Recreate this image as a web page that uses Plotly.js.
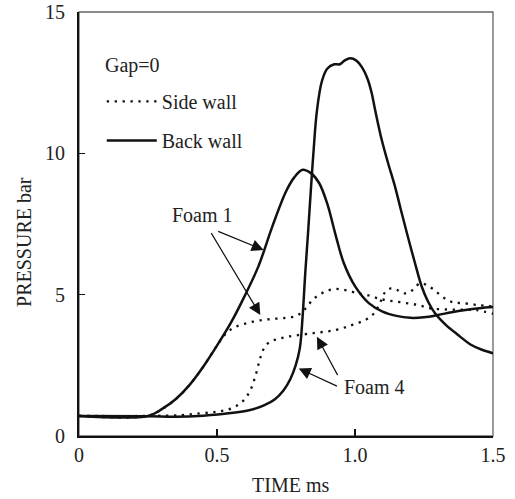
<!DOCTYPE html>
<html>
<head>
<meta charset="utf-8">
<script src="https://cdn.plot.ly/plotly-3.0.1.min.js"></script>
<style>
  html, body { margin: 0; padding: 0; background: #fff; }
  #chart { width: 515px; height: 499px; }
</style>
</head>
<body>
<div id="chart"></div>
<script>
// Foam 1, back wall (solid)
const timeFoam1Back = [0, 0.25, 0.30, 0.35, 0.40, 0.45, 0.50, 0.55, 0.60, 0.65, 0.70, 0.75, 0.78, 0.81, 0.84, 0.87, 0.90, 0.93, 0.96, 1.00, 1.05, 1.10, 1.15, 1.20, 1.25, 1.30, 1.35, 1.40, 1.45, 1.50];
const presFoam1Back = [0.71, 0.71, 0.95, 1.30, 1.80, 2.45, 3.20, 4.00, 4.95, 6.00, 7.40, 8.65, 9.15, 9.42, 9.30, 8.95, 8.20, 7.10, 6.10, 5.30, 4.70, 4.40, 4.25, 4.18, 4.20, 4.28, 4.38, 4.46, 4.52, 4.56];

// Foam 4, back wall (solid)
const timeFoam4Back = [0, 0.25, 0.35, 0.45, 0.55, 0.62, 0.67, 0.71, 0.74, 0.765, 0.785, 0.80, 0.81, 0.82, 0.83, 0.84, 0.85, 0.862, 0.88, 0.90, 0.925, 0.945, 0.962, 0.983, 1.005, 1.025, 1.045, 1.06, 1.073, 1.097, 1.12, 1.145, 1.165, 1.188, 1.215, 1.242, 1.265, 1.29, 1.33, 1.37, 1.42, 1.46, 1.50];
const presFoam4Back = [0.71, 0.70, 0.68, 0.72, 0.81, 0.92, 1.08, 1.30, 1.60, 2.00, 2.50, 3.10, 4.20, 5.80, 7.20, 8.70, 10.10, 11.50, 12.55, 13.00, 13.15, 13.15, 13.28, 13.36, 13.28, 13.05, 12.65, 12.15, 11.53, 10.47, 9.65, 8.82, 8.05, 7.18, 6.20, 5.28, 4.75, 4.34, 3.92, 3.60, 3.23, 3.05, 2.93];

// Foam 1, side wall (dotted)
const timeFoam1Side = [0, 0.25, 0.30, 0.35, 0.40, 0.45, 0.50, 0.53, 0.56, 0.60, 0.65, 0.70, 0.75, 0.79, 0.82, 0.85, 0.89, 0.93, 0.97, 1.01, 1.05, 1.09, 1.13, 1.18, 1.23, 1.27, 1.32, 1.38, 1.44, 1.50];
const presFoam1Side = [0.71, 0.71, 0.95, 1.30, 1.80, 2.45, 3.20, 3.60, 3.83, 3.97, 4.08, 4.14, 4.18, 4.26, 4.50, 4.85, 5.10, 5.20, 5.15, 5.05, 4.97, 4.85, 4.78, 4.71, 4.63, 4.52, 4.48, 4.47, 4.45, 4.33];

// Foam 4, side wall (dotted)
const timeFoam4Side = [0, 0.25, 0.37, 0.44, 0.50, 0.55, 0.59, 0.62, 0.64, 0.655, 0.67, 0.69, 0.72, 0.76, 0.85, 0.93, 0.99, 1.04, 1.07, 1.09, 1.11, 1.13, 1.15, 1.175, 1.195, 1.215, 1.235, 1.26, 1.285, 1.31, 1.335, 1.36, 1.39, 1.44, 1.50];
const presFoam4Side = [0.71, 0.71, 0.74, 0.80, 0.86, 0.97, 1.20, 1.60, 2.15, 2.70, 3.10, 3.32, 3.43, 3.52, 3.64, 3.75, 3.93, 4.12, 4.35, 4.70, 5.10, 5.22, 5.18, 5.05, 5.07, 5.22, 5.40, 5.34, 5.18, 4.98, 4.81, 4.72, 4.70, 4.64, 4.58];

// Axis ticks
const xTicks = [0, 0.5, 1.0, 1.5];
const xTickText = ['0', '0.5', '1.0', '1.5'];
const yTicks = [0, 5, 10, 15];
const yTickText = ['0', '5', '10', '15'];

const FONT = 'Liberation Serif, Times New Roman, serif';
const INK = '#111';
const TEXT = '#222';

const solid = { color: INK, width: 2.5, shape: 'spline', smoothing: 1.0 };
const dotted = { color: INK, width: 2.3, dash: '2.3px,5.6px', shape: 'spline', smoothing: 1.0 };

const traces = [
  { x: timeFoam1Side, y: presFoam1Side, mode: 'lines', line: dotted, name: 'Side wall', legendgroup: 'side', showlegend: true },
  { x: timeFoam4Side, y: presFoam4Side, mode: 'lines', line: dotted, name: 'Side wall', legendgroup: 'side', showlegend: false },
  { x: timeFoam1Back, y: presFoam1Back, mode: 'lines', line: solid, name: 'Back wall', legendgroup: 'back', showlegend: true },
  { x: timeFoam4Back, y: presFoam4Back, mode: 'lines', line: solid, name: 'Back wall', legendgroup: 'back', showlegend: false }
];

// Pointer arrows from the foam labels to their curves
function pointer(tipX, tipY, tailX, tailY) {
  return {
    x: tipX, y: tipY, ax: tailX, ay: tailY,
    xref: 'x', yref: 'y', axref: 'x', ayref: 'y',
    text: '', showarrow: true,
    arrowhead: 2, arrowsize: 2, arrowwidth: 1.2, arrowcolor: INK,
    standoff: 0, startstandoff: 0
  };
}

const textFont = { family: FONT, size: 20, color: TEXT };

const layout = {
  width: 515, height: 499,
  margin: { l: 79, r: 22, t: 12, b: 63 },
  paper_bgcolor: '#fff', plot_bgcolor: '#fff',
  font: textFont,
  showlegend: true,
  legend: {
    x: 0.055, y: 0.835, xanchor: 'left', yanchor: 'top',
    bgcolor: 'rgba(0,0,0,0)', borderwidth: 0,
    font: textFont,
    itemwidth: 50, tracegroupgap: 10, traceorder: 'grouped'
  },
  xaxis: {
    range: [0, 1.5], tickvals: xTicks, ticktext: xTickText,
    ticks: 'inside', ticklen: 7, tickwidth: 1.3, tickcolor: INK,
    showline: true, linecolor: INK, linewidth: 2,
    showgrid: false, zeroline: false, fixedrange: true,
    tickfont: textFont
  },
  yaxis: {
    range: [0, 15], tickvals: yTicks, ticktext: yTickText,
    ticks: 'inside', ticklen: 6, tickwidth: 1.3, tickcolor: INK,
    showline: true, linecolor: INK, linewidth: 2,
    showgrid: false, zeroline: false, fixedrange: true,
    ticklabelstandoff: 8,
    tickfont: textFont
  },
  shapes: [
    { type: 'rect', xref: 'paper', yref: 'paper', x0: 0, x1: 1, y0: 0, y1: 1,
      line: { color: '#666', width: 1.3 }, layer: 'below' }
  ],
  annotations: [
    { text: 'PRESSURE bar', xref: 'paper', yref: 'paper', x: -0.133, y: 0.4575,
      textangle: -90, showarrow: false, xanchor: 'center', yanchor: 'middle', font: textFont },
    { text: 'TIME ms', xref: 'paper', yref: 'paper', x: 0.51, y: -0.115,
      showarrow: false, xanchor: 'center', yanchor: 'middle', font: textFont },
    { text: 'Gap=0', xref: 'paper', yref: 'paper', x: 0.058, y: 0.875,
      showarrow: false, xanchor: 'left', yanchor: 'middle', font: textFont },
    { text: 'Foam 1', xref: 'x', yref: 'y', x: 0.449, y: 7.82,
      showarrow: false, xanchor: 'center', yanchor: 'middle', font: textFont },
    { text: 'Foam 4', xref: 'x', yref: 'y', x: 1.072, y: 1.73,
      showarrow: false, xanchor: 'center', yanchor: 'middle', font: textFont },
    pointer(0.669, 6.58, 0.499, 7.26),
    pointer(0.657, 4.28, 0.476, 7.23),
    pointer(0.796, 2.39, 0.940, 1.74),
    pointer(0.862, 3.51, 0.940, 2.10)
  ]
};

Plotly.newPlot('chart', traces, layout, { staticPlot: true, displayModeBar: false });
</script>
</body>
</html>
